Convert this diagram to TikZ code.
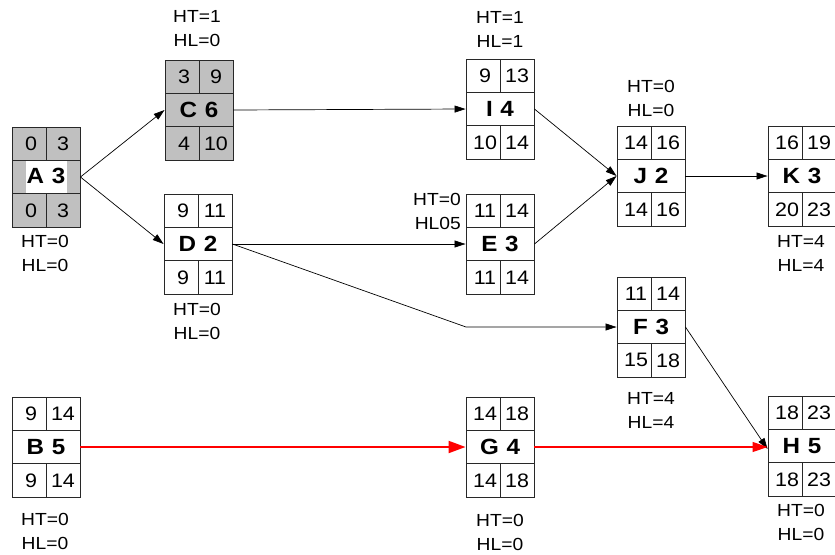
\documentclass[tikz,border=0pt]{standalone}
\usepackage{fontspec}
\setmainfont{Liberation Sans}[FakeStretch=1.1]
\usetikzlibrary{arrows.meta}
\definecolor{boxgray}{RGB}{192,192,192}
\definecolor{linegray}{RGB}{40,40,40}
\definecolor{arrred}{RGB}{255,0,0}
\tikzset{
  cell/.style={draw=linegray, line width=0.9pt, minimum width=34pt, minimum height=33.33pt,
    inner sep=0pt, font=\fontsize{19.5}{19.5}\selectfont},
  midcell/.style={draw=linegray, line width=0.9pt, minimum width=68pt, minimum height=33.33pt,
    inner sep=0pt, font=\bfseries\fontsize{22}{22}\selectfont},
  lbl/.style={align=center, inner sep=0pt, font=\fontsize{17.5}{24}\selectfont},
  arr/.style={line width=0.7pt, draw=black, -{Triangle[length=11pt,width=7pt]}},
  redthick/.style={line width=2pt, draw=arrred, -{Triangle[length=17pt,width=12pt,fill=arrred]}},
  redthin/.style={line width=1.1pt, draw=arrred, -{Triangle[length=15pt,width=10pt,fill=arrred]}},
}
% #1 name, #2 left, #3 top, #4 tl, #5 tr, #6 mid text, #7 bl, #8 br, #9 fill
\newcommand\actbox[9]{%
  \node[cell,fill=#9] (#1-tl) at (#2+17,#3+16.67) {\hspace{4pt}#4};
  \node[cell,fill=#9] (#1-tr) at (#2+51,#3+16.67) {#5};
  \node[midcell,fill=#9] (#1) at (#2+34,#3+50) {#6};
  \node[cell,fill=#9] (#1-bl) at (#2+17,#3+83.33) {\hspace{4pt}#7};
  \node[cell,fill=#9] (#1-br) at (#2+51,#3+83.33) {#8};
}
\newcommand\whitebg[1]{{\setlength{\fboxsep}{0pt}\colorbox{white}{\makebox[41pt]{\rule[-9pt]{0pt}{31.5pt}#1}}}}
\newcommand\gap{\hspace{0.35em}}
\begin{document}
\begin{tikzpicture}[x=1pt,y=-1pt]
\useasboundingbox (0,0) rectangle (835,554);
\fill[white] (0,0) rectangle (835,554);

\actbox{A}{12}{127}{0}{3}{\whitebg{A\gap 3}}{0}{3}{boxgray}
\actbox{C}{165}{60}{3}{9}{C\gap 6}{4}{10}{boxgray}
\actbox{D}{164}{194}{9}{11}{D\gap 2}{9}{11}{white}
\actbox{I}{466}{59}{9}{13}{I\gap 4}{10}{14}{white}
\actbox{E}{466}{194}{11}{14}{E\gap 3}{11}{14}{white}
\actbox{J}{617}{126}{14}{16}{J\gap 2}{14}{16}{white}
\actbox{K}{768}{126}{16}{19}{K\gap 3}{20}{23}{white}
\actbox{F}{617}{277}{11}{14}{F\gap 3}{15}{18}{white}
\actbox{B}{12}{397}{9}{14}{B\gap 5}{9}{14}{white}
\actbox{G}{466}{397}{14}{18}{G\gap 4}{14}{18}{white}
\actbox{H}{768}{396}{18}{23}{H\gap 5}{18}{23}{white}

\node[lbl] (lA) at (45,253) {HT=0\\HL=0};
\node[lbl] (lC) at (197,28.5) {HT=1\\HL=0};
\node[lbl] (lD) at (197,321.5) {HT=0\\HL=0};
\node[lbl] (lI) at (500,29.5) {HT=1\\HL=1};
\node[lbl] (lJ) at (651,98) {HT=0\\HL=0};
\node[lbl,align=right,anchor=east] (lE) at (461,211) {HT=0\\HL05};
\node[lbl] (lK) at (801,253.5) {HT=4\\HL=4};
\node[lbl] (lF) at (651,410) {HT=4\\HL=4};
\node[lbl] (lH) at (801,522.5) {HT=0\\HL=0};
\node[lbl] (lG) at (500,532.5) {HT=0\\HL=0};
\node[lbl] (lB) at (45,531) {HT=0\\HL=0};

\coordinate (bend) at (466,327);
\draw[arr] (A.east) -- (C.west);
\draw[arr] (A.east) -- (D.west);
\draw[arr] (C.east) -- (I.west);
\draw[arr] (D.east) -- (E.west);
\draw[arr] (D.east) -- (bend) -- (F.west);
\draw[arr] (I.east) -- (J.west);
\draw[arr] (E.east) -- (J.west);
\draw[arr] (J.east) -- (K.west);
\draw[arr] (F.east) -- ([yshift=-3pt]H.west);
\draw[redthick] (B.east) -- (G.west);
\draw[redthin] (G.east) -- (G.east -| H.west);
\end{tikzpicture}
\end{document}
